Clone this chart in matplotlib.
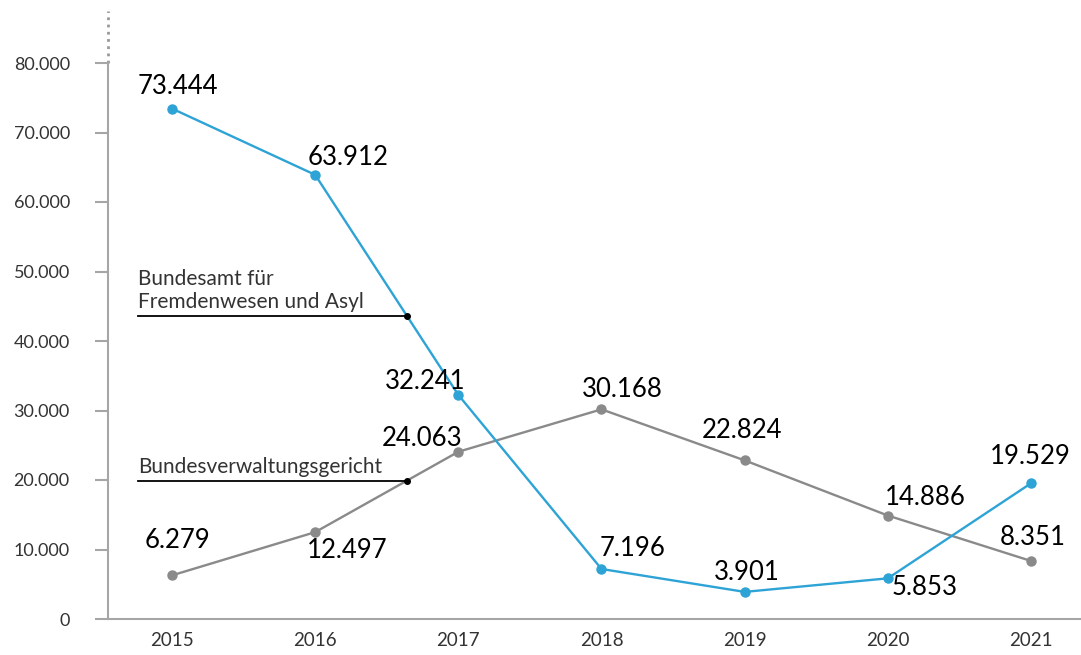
import matplotlib.pyplot as plt
import numpy as np

plt.rcParams['font.family'] = ['Lato', 'DejaVu Sans']

years = [2015, 2016, 2017, 2018, 2019, 2020, 2021]
bfa = [73444, 63912, 32241, 7196, 3901, 5853, 19529]
bvwg = [6279, 12497, 24063, 30168, 22824, 14886, 8351]
bfa_labels = ['73.444', '63.912', '32.241', '7.196', '3.901', '5.853', '19.529']
bvwg_labels = ['6.279', '12.497', '24.063', '30.168', '22.824', '14.886', '8.351']
yticks = [0, 10000, 20000, 30000, 40000, 50000, 60000, 70000, 80000]
ytick_labels = ['0', '10.000', '20.000', '30.000', '40.000', '50.000', '60.000', '70.000', '80.000']

# Offsets der Werte-Beschriftungen (Pixel, relativ zum Punkt)
bfa_off = [(6, 22), (33, 17), (-33, 13), (31, 20), (2, 19), (37, -9), (-1, 27)]
bvwg_off = [(6, 35), (32, -18), (-36, 13), (21, 20), (-3, 30), (37, 18), (2, 23)]

blue = '#2ea3d5'
grey = '#8a8a8a'
axcol = '#a6a6a6'

fig = plt.figure(figsize=(10.81, 6.55), dpi=100)
px_per_k = 6.95
ytop = 88000
ax = fig.add_axes([108 / 1081, 36 / 655, 973 / 1081, ytop / 1000 * px_per_k / 655])
ax.set_xlim(2015 - 64 / 143.2, 2021 + 50 / 143.2)
ax.set_ylim(0, ytop)

ax.plot(years, bvwg, color=grey, lw=1.7, marker='o', ms=6.5, zorder=3)
ax.plot(years, bfa, color=blue, lw=1.7, marker='o', ms=6.5, zorder=3)

for x, y, t, o in zip(years, bfa, bfa_labels, bfa_off):
    ax.annotate(t, (x, y), xytext=(o[0] * 0.72, o[1] * 0.72), textcoords='offset points',
                ha='center', va='center', fontsize=18.5, color='black')
for x, y, t, o in zip(years, bvwg, bvwg_labels, bvwg_off):
    ax.annotate(t, (x, y), xytext=(o[0] * 0.72, o[1] * 0.72), textcoords='offset points',
                ha='center', va='center', fontsize=18.5, color='black')

# Serienbeschriftungen mit Linie
xa = 2016.64
x0 = 2014.76
ya = np.interp(xa, years, bfa)
yb = np.interp(xa, years, bvwg)
ax.plot([x0, xa], [ya, ya], color='black', lw=1.3, zorder=4)
ax.plot([xa], [ya], 'o', color='black', ms=4, zorder=5)
ax.text(x0, ya + 600, 'Bundesamt für\nFremdenwesen und Asyl', fontsize=15, ha='left', va='bottom',
        linespacing=1.15, color='#333333')
ax.plot([x0, xa], [yb, yb], color='black', lw=1.3, zorder=4)
ax.plot([xa], [yb], 'o', color='black', ms=4, zorder=5)
ax.text(x0, yb + 600, 'Bundesverwaltungsgericht', fontsize=15, ha='left', va='bottom',
        color='#333333')

for s in ['top', 'right']:
    ax.spines[s].set_visible(False)
ax.spines['left'].set_color(axcol)
ax.spines['bottom'].set_color(axcol)
ax.spines['left'].set_linewidth(1.5)
ax.spines['bottom'].set_linewidth(1.5)
ax.spines['left'].set_bounds(0, 80000)
ax.plot([ax.get_xlim()[0]] * 2, [80000, 87500], color='#999999', lw=2, ls=(0, (1, 1.6)), clip_on=False)

ax.set_yticks(yticks)
ax.set_yticklabels(ytick_labels)
ax.set_xticks(years)
ax.tick_params(axis='y', length=9.5, width=1.5, color=axcol, labelsize=13, pad=18, labelcolor='#333333')
ax.tick_params(axis='x', length=0, labelsize=13.5, pad=9, labelcolor='#333333')

fig.savefig('out.png', dpi=100)
